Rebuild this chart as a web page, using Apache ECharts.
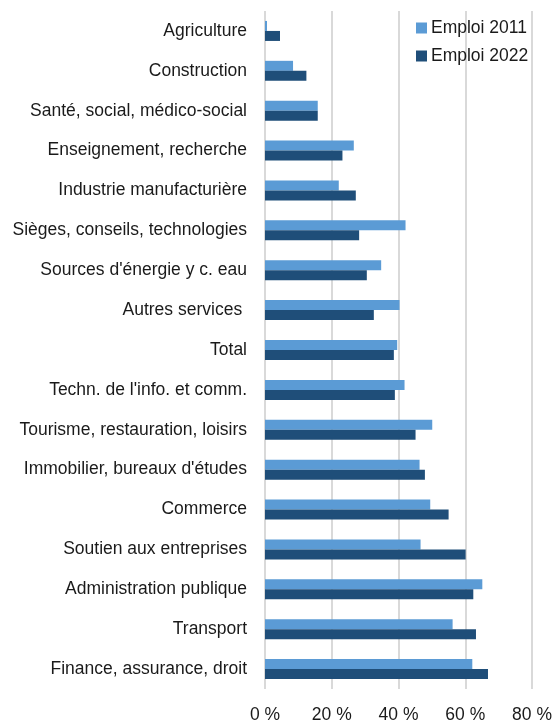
<!DOCTYPE html>
<html><head><meta charset="utf-8">
<script src="https://cdn.jsdelivr.net/npm/echarts@6/dist/echarts.min.js"></script>
<style>html,body{margin:0;padding:0;background:#fff}#c{width:555px;height:724px}</style>
</head><body><div id="c"></div>
<script>
const categories = ["Agriculture","Construction","Santé, social, médico-social","Enseignement, recherche","Industrie manufacturière","Sièges, conseils, technologies","Sources d'énergie y c. eau","Autres services ","Total","Techn. de l'info. et comm.","Tourisme, restauration, loisirs","Immobilier, bureaux d'études","Commerce","Soutien aux entreprises","Administration publique","Transport","Finance, assurance, droit"];
const emploi2011 = [0.6,8.4,15.8,26.6,22.1,42.1,34.8,40.3,39.6,41.8,50.1,46.3,49.5,46.6,65.1,56.2,62.1];
const emploi2022 = [4.5,12.4,15.8,23.2,27.2,28.2,30.5,32.6,38.6,38.9,45.1,47.9,55.0,60.1,62.4,63.2,66.8];
const xTicks = [0,20,40,60,80];

const chart = echarts.init(document.getElementById('c'), null, {renderer:'canvas'});
const font = "'Liberation Sans', Arial, sans-serif";
chart.setOption({
  animation:false,
  textStyle:{fontFamily:font},
  legend:{
    left:411, top:14, orient:'vertical', itemGap:10,
    itemWidth:11, itemHeight:11, icon:'rect',
    textStyle:{fontSize:17.5, color:'#1a1a1a', fontFamily:font, padding:[2,0,0,-1]},
    data:['Emploi 2011','Emploi 2022']
  },
  grid:{left:265, right:20, top:11, bottom:35, containLabel:false},
  xAxis:{
    type:'value', min:xTicks[0], max:xTicks[xTicks.length-1], interval:20,
    axisLine:{show:false}, axisTick:{show:false},
    splitLine:{show:true, lineStyle:{color:'#d9d9d9', width:2}},
    axisLabel:{formatter:'{value} %', fontSize:17.5, color:'#1a1a1a', margin:17, fontFamily:font}
  },
  yAxis:{
    type:'category', data:categories, inverse:true,
    axisLine:{show:false}, axisTick:{show:false},
    axisLabel:{fontSize:17.5, color:'#1a1a1a', margin:18, fontFamily:font, padding:[6,0,0,0]}
  },
  series:[
    {name:'Emploi 2011', type:'bar', data:emploi2011, barWidth:10, barGap:'0%', itemStyle:{color:'#5B9BD5'}},
    {name:'Emploi 2022', type:'bar', data:emploi2022, barWidth:10, barGap:'0%', itemStyle:{color:'#1F4E79'}}
  ]
});
</script></body></html>
